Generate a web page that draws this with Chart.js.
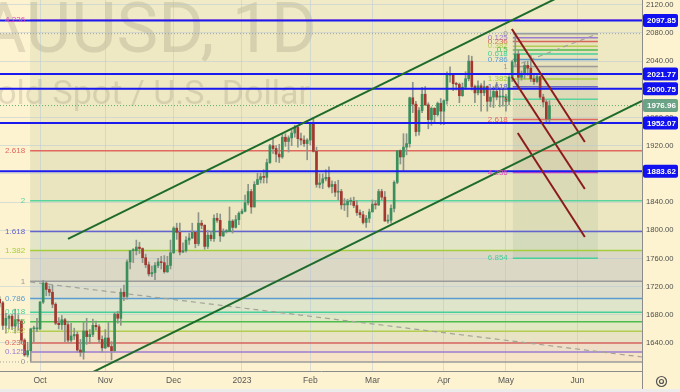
<!DOCTYPE html>
<html><head><meta charset="utf-8">
<script src="https://cdn.jsdelivr.net/npm/chart.js@4"></script>
<style>html,body{margin:0;padding:0;background:#fdf3d0;overflow:hidden}#wrap{width:680px;height:392px;position:relative}</style>
</head><body><div id="wrap"><canvas id="c" width="680" height="392"></canvas></div>
<script>
// ---------- DATA ----------
const firstIdx = -13; // bar index of first candle (Sep 14 2022); Oct 3 2022 = 0
const opens  = [1702,1697,1665,1675,1678,1664,1673,1671,1644,1623,1629,1660,1660,
 1660,1698,1725,1716,1712,1695,1668,1666,1673,1666,1644,1650,1652,1630,1627,1657,1649,1652,1665,1663,1645,
 1633,1647,1635,1629,1681,1675,1712,1706,1755,1771,1771,1776,1774,1761,1751,1738,1740,1750,1755,1754,1741,1750,
 1768,1803,1797,1769,1771,1786,1789,1797,1781,1810,1807,1777,1793,1788,1817,1814,1792,1798,1798,1813,1804,1815,
 1824,1827,1839,1855,1833,1865,1872,1876,1875,1896,1920,1916,1908,1904,1932,1926,1931,1938,1946,1930,1928,1923,
 1928,1951,1912,1865,1867,1873,1875,1862,1865,1854,1855,1836,1836,1841,1841,1835,1825,1822,1811,1817,
 1826,1837,1836,1855,1847,1813,1814,1831,1868,1913,1904,1918,1923,1988,1979,1940,1970,1993,1978,1957,1973,1964,1980,
 1969,1984,2020,2021,2008,2007,1991,2003,2015,2040,2004,1995,2005,1995,2004,1983,1989,1997,1989,1989,
 1990,1983,2017,2039,2050,2017,2022,2034,2030,2015,2011,2018,1989,1982,1958];
const highs  = [1706,1699,1682,1680,1681,1688,1680,1673,1646,1641,1661,1664,1675,
 1699,1729,1727,1721,1722,1697,1676,1679,1675,1671,1668,1661,1656,1645,1670,1675,1659,1674,1671,1666,1650,
 1659,1669,1642,1683,1685,1717,1722,1758,1771,1774,1786,1783,1775,1766,1755,1749,1754,1760,1763,1764,1763,1786,
 1805,1810,1810,1782,1791,1796,1810,1798,1825,1814,1808,1800,1798,1822,1824,1823,1802,1801,1833,1815,1821,1826,
 1830,1850,1865,1858,1869,1881,1881,1886,1901,1922,1930,1920,1922,1936,1937,1934,1942,1949,1949,1938,1934,1930,
 1952,1960,1918,1880,1880,1886,1890,1870,1869,1871,1858,1845,1844,1846,1847,1842,1829,1827,1821,1830,
 1843,1842,1858,1858,1855,1822,1836,1870,1913,1914,1937,1937,1989,2010,1983,1974,2003,2004,1981,1975,1974,1982,1987,
 1985,2025,2032,2022,2010,2009,2009,2025,2048,2047,2006,2012,2008,2012,2005,1999,2004,2010,2002,2000,
 1993,2019,2041,2079,2056,2026,2038,2040,2048,2022,2022,2019,1993,1985,1984];
const lows   = [1691,1659,1654,1660,1659,1654,1658,1639,1621,1620,1614,1641,1656,
 1659,1696,1707,1707,1690,1666,1660,1659,1642,1641,1640,1645,1627,1621,1617,1638,1639,1649,1658,1640,1627,
 1632,1634,1616,1628,1668,1665,1700,1702,1745,1754,1765,1767,1754,1747,1735,1734,1730,1747,1745,1739,1740,1745,
 1767,1787,1765,1768,1769,1780,1788,1775,1778,1802,1773,1774,1785,1784,1811,1784,1791,1796,1798,1796,1803,1808,
 1823,1826,1836,1824,1833,1865,1867,1867,1867,1895,1909,1897,1896,1902,1919,1911,1920,1932,1918,1921,1919,1900,
 1921,1911,1861,1860,1859,1870,1860,1853,1848,1843,1830,1828,1819,1836,1832,1821,1818,1809,1804,1811,
 1826,1830,1835,1843,1813,1810,1810,1826,1866,1894,1885,1907,1918,1967,1934,1935,1967,1977,1944,1949,1953,1962,1950,
 1950,1979,2010,1998,1999,1981,1990,2000,2012,1999,1981,1992,1969,1991,1969,1975,1974,1985,1975,1976,
 1969,1978,2011,2035,2004,2013,2015,2020,2011,2007,2009,1986,1975,1952,1951];
const closes = [1697,1665,1675,1678,1664,1673,1671,1644,1623,1629,1660,1660,1661,
 1698,1725,1716,1712,1695,1668,1666,1673,1666,1644,1650,1652,1630,1627,1657,1649,1652,1665,1663,1645,1633,
 1647,1635,1629,1681,1675,1712,1706,1755,1771,1771,1776,1774,1761,1751,1738,1740,1750,1755,1754,1741,1750,1768,
 1803,1797,1769,1771,1786,1789,1797,1781,1810,1807,1777,1793,1788,1817,1814,1792,1798,1798,1813,1804,1815,1824,
 1827,1839,1855,1833,1865,1872,1876,1875,1896,1920,1916,1908,1904,1932,1926,1931,1938,1946,1930,1928,1923,1928,
 1951,1912,1865,1867,1873,1875,1862,1865,1854,1855,1836,1836,1841,1841,1835,1825,1822,1811,1817,1826,
 1837,1836,1855,1847,1813,1814,1831,1868,1913,1904,1918,1923,1988,1979,1940,1970,1993,1978,1957,1973,1964,1980,1969,
 1984,2020,2021,2008,2007,1991,2003,2015,2040,2004,1995,2005,1995,2004,1983,1989,1997,1989,1989,1990,
 1983,2017,2039,2050,2017,2022,2034,2030,2015,2011,2018,1989,1982,1958,1977];

const monthIdx    = [0, 21, 43, 65, 87, 107, 130, 150, 173];
const monthLabels = ['Oct','Nov','Dec','2023','Feb','Mar','Apr','May','Jun'];
const priceTicks  = [1640,1680,1720,1760,1800,1840,1880,1920,1960,2000,2040,2080,2120];

const hLevels     = [2097.85, 2021.77, 2000.75, 1952.07, 1883.62];
const lastPrice   = 1976.96;
const dottedLevel = 2079;

// left Fibonacci (extension, extended right)
const leftFibRatios = [0,0.125,0.236,0.382,0.5,0.618,0.786,1,1.382,1.618,2,2.618,4.236];
const leftFibZero = 1613, leftFibOne = 1727.5, leftFibStart = -3.2;
// right Fibonacci
const rightFibRatios = [0,0.125,0.236,0.382,0.5,0.618,0.786,1,1.382,1.618,2,2.618,4.236,6.854];
const rightFibZero = 2079, rightFibOne = 2032.5, rightFibStart = 152.2, rightFibEnd = 179.6;

// trend lines [x1,y1,x2,y2] in (bar index, price)
const greenLines = [[9.0,1787.6,190,2180.8],[10,1583.4,193.8,1983.5]];
const redLines   = [[151.9,2085.7,175.4,1925.3],[151.9,2017.5,175.4,1858.6],[153.8,1938.1,175.4,1790.4]];
const grayDashed = [[-3.2,1726.6,193.8,1620.1],[152.2,2032.5,179.6,2079]];

const X_MIN = -12.9, X_MAX = 193.8, Y_MIN = 1600.2, Y_MAX = 2126.8;

// ---------- STYLES ----------
const fibColors = {0:'#9b9b9b',0.125:'#9c7bd0',0.236:'#d8645c',0.382:'#b3cc52',0.5:'#4cbc4c',0.618:'#46cf9a',
  0.786:'#5a9bd0',1:'#9b9b9b',1.382:'#a5cd3c',1.618:'#6464cc',2:'#58d49c',2.618:'#e0685e',4.236:'#e04cb4',6.854:'#46cf9a'};
const leftZoneColors = ['#f7e3c5','#efdfc8','#e8e3c4','#e2e8c2','#e0e7c4','#dfe5ca','#dcdecb','#dbd9c6','#e3e6c6','#ece7c0','#ebe5bf','#eee9c3'];
const aboveColor = '#f0ebc6';
const rightZoneColors = ['rgba(120,120,110,0.06)','rgba(120,120,110,0.06)','rgba(120,120,110,0.06)','rgba(120,120,110,0.06)',
  'rgba(120,120,110,0.06)','rgba(120,120,110,0.06)','rgba(120,120,110,0.06)','rgba(110,110,100,0.12)','rgba(110,110,100,0.12)',
  'rgba(110,110,100,0.12)','rgba(110,110,100,0.12)','rgba(110,110,100,0.16)','rgba(90,140,110,0.11)'];
const UP='#3a8f5c', DOWN='#a3382f', WICK='#8d958a';

const lf = r => leftFibZero + r*(leftFibOne-leftFibZero);
const rf = r => rightFibZero - r*(rightFibZero-rightFibOne);

function seg(pts, color, width, dash, order){
  return {type:'line', data: pts.map(p=>({x:p[0],y:p[1]})), borderColor:color, borderWidth:width,
    borderDash:dash||[], pointRadius:0, pointHoverRadius:0, fill:false, tension:0, order:order};
}

const datasets = [];
leftFibRatios.forEach(r=>datasets.push(seg([[leftFibStart,lf(r)],[X_MAX,lf(r)]], fibColors[r], 1.5, null, 20)));
rightFibRatios.forEach(r=>datasets.push(seg([[rightFibStart,rf(r)],[rightFibEnd,rf(r)]], fibColors[r], 1.5, null, 20)));
datasets.push(seg([[X_MIN,dottedLevel],[X_MAX,dottedLevel]], '#a0a0a0', 1, [1,2], 19));
datasets.push(seg([[X_MIN,leftFibZero],[leftFibStart,leftFibZero]], '#a0a0a0', 1, [1,2], 19));
datasets.push(seg([[X_MIN,lastPrice],[X_MAX,lastPrice]], '#5cae6c', 1, [1,2], 19));
grayDashed.forEach(l=>datasets.push(seg([[l[0],l[1]],[l[2],l[3]]], '#a3a39a', 1.2, [5,4], 18)));
datasets.push({type:'bar', data: opens.map((o,i)=>({x:firstIdx+i, y:[lows[i],highs[i]]})),
  backgroundColor: WICK, barThickness:1, grouped:false, order:10});
datasets.push({type:'bar', data: opens.map((o,i)=>({x:firstIdx+i, y:[o,closes[i]]})),
  backgroundColor: ctx => closes[ctx.dataIndex] >= opens[ctx.dataIndex] ? UP : DOWN,
  barThickness:2, grouped:false, minBarLength:1, order:9});
hLevels.forEach(v=>datasets.push(seg([[X_MIN,v],[X_MAX,v]], '#1a1af0', 2, null, 3)));
greenLines.forEach(l=>datasets.push(seg([[l[0],l[1]],[l[2],l[3]]], '#1f6b2c', 2, null, 2)));
redLines.forEach(l=>datasets.push(seg([[l[0],l[1]],[l[2],l[3]]], '#8a1c1c', 2, null, 2)));

const px = (c,v)=>c.scales.x.getPixelForValue(v);
const py = (c,v)=>c.scales.y.getPixelForValue(v);

const bgPlugin = {id:'bg', beforeDraw(c){
  const ctx=c.ctx, a=c.chartArea;
  ctx.save();
  ctx.fillStyle='#fdf3d0'; ctx.fillRect(0,0,c.width,c.height);
  ctx.beginPath(); ctx.rect(a.left,a.top,a.right-a.left,a.bottom-a.top); ctx.clip();
  const x0=px(c,leftFibStart);
  ctx.fillStyle=aboveColor; ctx.fillRect(x0,a.top,a.right-x0,py(c,lf(4.236))-a.top);
  for(let i=0;i<leftFibRatios.length-1;i++){
    const yA=py(c,lf(leftFibRatios[i])), yB=py(c,lf(leftFibRatios[i+1]));
    ctx.fillStyle=leftZoneColors[i]; ctx.fillRect(x0,yB,a.right-x0,yA-yB);
  }
  const rx0=px(c,rightFibStart), rx1=px(c,rightFibEnd);
  for(let i=0;i<rightFibRatios.length-1;i++){
    const yA=py(c,rf(rightFibRatios[i])), yB=py(c,rf(rightFibRatios[i+1]));
    ctx.fillStyle=rightZoneColors[i]; ctx.fillRect(rx0,yA,rx1-rx0,yB-yA);
  }
  ctx.fillStyle='rgba(95,90,70,0.17)';
  ctx.textAlign='right'; ctx.textBaseline='alphabetic';
  ctx.font='70px Roboto'; ctx.fillText('XAUUSD, 1D',317,52);
  ctx.font='34px Roboto'; ctx.fillText('Gold Spot / U.S. Dollar',310,104);
  ctx.restore();
}};

const labelPlugin = {id:'labels', afterDatasetsDraw(c){
  const ctx=c.ctx; ctx.save();
  ctx.font='8px "Liberation Sans"'; ctx.textAlign='right'; ctx.textBaseline='middle';
  const lx=px(c,leftFibStart)-5;
  leftFibRatios.forEach(r=>{ctx.fillStyle=fibColors[r]; ctx.fillText(String(r),lx,py(c,lf(r)));});
  const rx=px(c,rightFibStart)-5;
  rightFibRatios.forEach(r=>{ctx.fillStyle=fibColors[r]; ctx.fillText(String(r),rx,py(c,rf(r)));});
  ctx.restore();
}};

const boxPlugin = {id:'boxes', afterDraw(c){
  const ctx=c.ctx, a=c.chartArea; ctx.save();
  ctx.strokeStyle='#8c8c8c'; ctx.lineWidth=1;
  ctx.beginPath(); ctx.moveTo(a.right+0.5,a.bottom); ctx.lineTo(a.right+0.5,c.height); ctx.stroke();
  function box(v,col){
    const y=py(c,v);
    ctx.fillStyle=col; ctx.beginPath(); ctx.roundRect(a.right+1,y-6.5,35,13,2); ctx.fill();
    ctx.fillStyle='#ffffff'; ctx.font='bold 8px "Liberation Sans"'; ctx.textAlign='left'; ctx.textBaseline='middle';
    ctx.fillText(v.toFixed(2),a.right+5,y+0.5);
  }
  box(lastPrice,'#6aa386');
  hLevels.forEach(v=>box(v,'#1010f0'));
  ctx.strokeStyle='#555'; ctx.lineWidth=1.2;
  ctx.beginPath(); ctx.arc(661.5,381.5,5,0,Math.PI*2); ctx.stroke();
  ctx.beginPath(); ctx.arc(661.5,381.5,2,0,Math.PI*2); ctx.stroke();
  ctx.fillStyle='#ececec'; ctx.fillRect(0,389,c.width,3);
  ctx.restore();
}};

new Chart(document.getElementById('c'), {
  type:'bar',
  data:{datasets},
  options:{
    responsive:false, animation:false, devicePixelRatio:1,
    layout:{padding:0},
    plugins:{legend:{display:false}, tooltip:{enabled:false}},
    scales:{
      x:{type:'linear', min:X_MIN, max:X_MAX, offset:false,
        grid:{color:'rgba(175,195,215,0.45)', drawTicks:false, offset:false},
        border:{color:'#8c8c8c', width:1},
        ticks:{color:'#555', font:{size:8.5, family:'"Liberation Sans"'}, padding:5, maxRotation:0, autoSkip:false,
          callback:v=>{const k=monthIdx.indexOf(v); return k>=0?monthLabels[k]:'';}},
        afterBuildTicks:s=>{s.ticks=monthIdx.map(v=>({value:v}));},
        afterFit:s=>{s.height=21; s.paddingLeft=0; s.paddingRight=0;}
      },
      y:{type:'linear', position:'right', min:Y_MIN, max:Y_MAX,
        grid:{color:'rgba(175,195,215,0.45)', drawTicks:false},
        border:{color:'#8c8c8c', width:1},
        ticks:{color:'#4d4d4d', font:{size:7.6, family:'"Liberation Sans"'}, padding:4, callback:v=>v.toFixed(2)},
        afterBuildTicks:s=>{s.ticks=priceTicks.map(v=>({value:v}));},
        afterFit:s=>{s.width=38; s.paddingTop=0; s.paddingBottom=0;}
      }
    }
  },
  plugins:[bgPlugin,labelPlugin,boxPlugin]
});
</script></body></html>
